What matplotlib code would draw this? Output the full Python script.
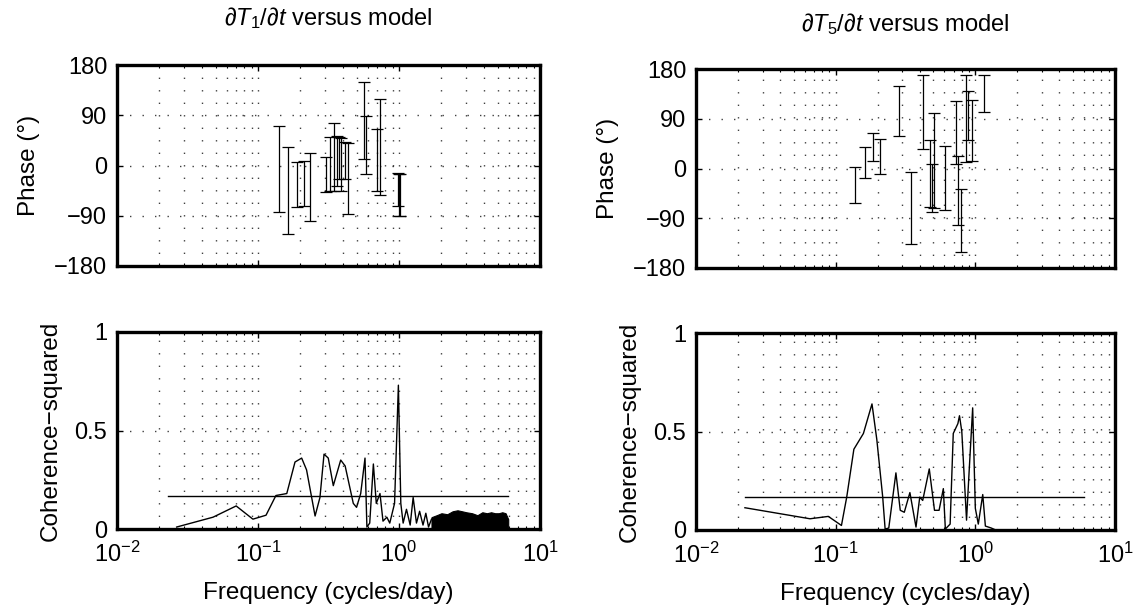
import numpy as np
import matplotlib
matplotlib.use("Agg")
import matplotlib.pyplot as plt
from matplotlib.ticker import LogLocator, NullFormatter, LogFormatterMathtext

plt.rcParams['font.family'] = ['Liberation Sans', 'DejaVu Sans']
plt.rcParams['mathtext.fontset'] = 'custom'
plt.rcParams['mathtext.rm'] = 'Liberation Sans'
plt.rcParams['mathtext.it'] = 'Liberation Sans:italic'

# ---------------- data: left column (dT1/dt) ----------------
titles = [r"$\partial T_1/\partial t$ versus model", r"$\partial T_5/\partial t$ versus model"]

ph1_freq = [0.140, 0.163, 0.188, 0.211, 0.234, 0.302, 0.324, 0.345, 0.362, 0.376,
            0.391, 0.414, 0.436, 0.565, 0.58, 0.695, 0.73, 0.99, 1.0, 1.01]
ph1_hi = [71, 33, 6, 8, 23, 15, 51, 77, 52, 51, 49, 42, 40, 150, 88, 65, 119, -13, -15, -15]
ph1_lo = [-83, -122, -75, -72, -99, -47, -46, -46, -37, -24, -46, -25, -87, 12, -16, -46, -52, -72, -90, -90]

coh1_freq = [0.0265, 0.048, 0.070, 0.092, 0.114, 0.134, 0.16, 0.183, 0.204, 0.221,
             0.254, 0.275, 0.294, 0.315, 0.342, 0.386, 0.415, 0.474, 0.50, 0.535,
             0.574, 0.592, 0.62, 0.658, 0.69, 0.733, 0.77, 0.82, 0.86, 0.93,
             0.99, 1.03, 1.07, 1.13, 1.2, 1.26, 1.33, 1.4, 1.48, 1.55, 1.62, 1.7]
coh1_val = [0.01, 0.06, 0.117, 0.05, 0.07, 0.17, 0.18, 0.34, 0.36, 0.30,
            0.066, 0.16, 0.38, 0.36, 0.22, 0.35, 0.32, 0.13, 0.11, 0.18,
            0.36, 0.01, 0.03, 0.33, 0.13, 0.18, 0.04, 0.06, 0.03, 0.13,
            0.73, 0.13, 0.03, 0.10, 0.02, 0.16, 0.03, 0.09, 0.02, 0.08, 0.01, 0.05]

# dense high-frequency band (upper envelope of the filled region)
band1_freq = [1.7, 1.85, 2.0, 2.2, 2.4, 2.6, 2.8, 3.0, 3.3, 3.6, 3.9, 4.2, 4.5, 4.8, 5.1, 5.4, 5.7, 5.95]
band1_top = [0.06, 0.07, 0.08, 0.075, 0.09, 0.095, 0.09, 0.085, 0.08, 0.07, 0.085, 0.08, 0.085, 0.08, 0.08, 0.085, 0.08, 0.05]

sig1_freq = [0.023, 5.95]
sig1_val = [0.17, 0.17]

# ---------------- data: right column (dT5/dt) ----------------
ph5_freq = [0.1374, 0.162, 0.184, 0.207, 0.284, 0.344, 0.42, 0.47, 0.49, 0.505,
            0.605, 0.727, 0.75, 0.79, 0.857, 0.89, 0.94, 1.15]
ph5_hi = [3, 39, 64, 54, 149, -7, 169, 52, 8, 100, 40, 122, 23, -37, 170, 141, 124, 170]
ph5_lo = [-63, -17, 14, -10, 58, -136, 36, -70, -78, -72, -75, 8, -102, -151, 11, 52, 14, 103]

coh5_freq = [0.0224, 0.0655, 0.0886, 0.110, 0.12, 0.135, 0.158, 0.182, 0.197, 0.217,
             0.226, 0.24, 0.27, 0.29, 0.31, 0.34, 0.376, 0.40, 0.42, 0.468,
             0.51, 0.55, 0.59, 0.61, 0.66, 0.695, 0.75, 0.77, 0.80, 0.865,
             0.9, 0.957, 1.0, 1.05, 1.13, 1.18, 1.3, 1.4]
coh5_val = [0.113, 0.057, 0.069, 0.023, 0.167, 0.41, 0.49, 0.64, 0.46, 0.17,
            0.005, 0.01, 0.29, 0.10, 0.09, 0.19, 0.015, 0.167, 0.15, 0.31,
            0.10, 0.10, 0.21, 0.005, 0.03, 0.49, 0.54, 0.58, 0.50, 0.05,
            0.28, 0.62, 0.11, 0.03, 0.18, 0.02, 0.01, 0.0]

sig5_freq = [0.0224, 6.0]
sig5_val = [0.167, 0.167]

phase_ticks = [-180, -90, 0, 90, 180]
coh_ticks = [0, 0.5, 1]
coh_ticklabels = ['0', '0.5', '1']

# ---------------- figure ----------------
W, H = 1142, 613
fig = plt.figure(figsize=(W / 100, H / 100), dpi=100)

def px_axes(l, t, r, b):
    return fig.add_axes([l / W, 1 - b / H, (r - l) / W, (b - t) / H])

axes = {
    'p1': px_axes(117, 65, 540, 266),
    'c1': px_axes(117, 332, 540, 529),
    'p5': px_axes(696, 69, 1115, 268),
    'c5': px_axes(696, 333, 1115, 530),
}

grid_kw = dict(color='k', linestyle=(0, (1, 8)), linewidth=1.0, alpha=0.75)

def style(ax, ylim, yticks, yticklabels, ylabel, xlabels, ylabelpad):
    ax.set_xscale('log')
    ax.set_xlim(1e-2, 1e1)
    ax.set_ylim(*ylim)
    ax.set_yticks(yticks)
    ax.set_yticklabels(yticklabels)
    ax.xaxis.set_major_locator(LogLocator(base=10, numticks=10))
    ax.xaxis.set_minor_locator(LogLocator(base=10, subs=np.arange(2, 10), numticks=100))
    ax.xaxis.set_minor_formatter(NullFormatter())
    if xlabels:
        ax.xaxis.set_major_formatter(LogFormatterMathtext())
        ax.set_xlabel('Frequency (cycles/day)', fontsize=17.5, labelpad=11)
    else:
        ax.xaxis.set_major_formatter(NullFormatter())
    ax.set_ylabel(ylabel, fontsize=17.5, labelpad=ylabelpad)
    ax.grid(True, which='major', axis='both', **grid_kw)
    ax.grid(True, which='minor', axis='x', **grid_kw)
    for s in ax.spines.values():
        s.set_linewidth(2.4)
    ax.tick_params(which='both', direction='in', top=True, right=True, labelsize=17)
    ax.tick_params(axis='x', which='major', pad=9)
    ax.tick_params(axis='y', which='major', pad=7)
    ax.tick_params(which='major', length=4, width=1)
    ax.tick_params(which='minor', length=2, width=0.8)

def phase_panel(ax, f, lo, hi):
    f = np.asarray(f); lo = np.asarray(lo, float); hi = np.asarray(hi, float)
    mid = (lo + hi) / 2
    half = (hi - lo) / 2
    ax.errorbar(f, mid, yerr=half, fmt='none', ecolor='k', elinewidth=0.9,
                capsize=4, capthick=0.9, zorder=3)

def coh_panel(ax, f, c, sf, sc):
    ax.plot(sf, sc, color='k', linewidth=1.0, zorder=3)
    ax.plot(f, c, color='k', linewidth=1.0, zorder=3)

phase_panel(axes['p1'], ph1_freq, ph1_lo, ph1_hi)
phase_panel(axes['p5'], ph5_freq, ph5_lo, ph5_hi)
coh_panel(axes['c1'], coh1_freq, coh1_val, sig1_freq, sig1_val)
axes['c1'].fill_between(band1_freq, 0, band1_top, color='k', linewidth=0.8, zorder=3)
coh_panel(axes['c5'], coh5_freq, coh5_val, sig5_freq, sig5_val)

for key in ['p1', 'p5']:
    style(axes[key], (-180, 180), phase_ticks,
          [str(t) if t >= 0 else '\u2212' + str(-t) for t in phase_ticks],
          'Phase (\u00b0)', False, 10)
for key in ['c1', 'c5']:
    style(axes[key], (0, 1), coh_ticks, coh_ticklabels, 'Coherence\u2212squared', True, 9)

axes['p1'].set_title(titles[0], fontsize=17, pad=29)
axes['p5'].set_title(titles[1], fontsize=17, pad=27)

fig.savefig('out.png', dpi=100, facecolor='white')
